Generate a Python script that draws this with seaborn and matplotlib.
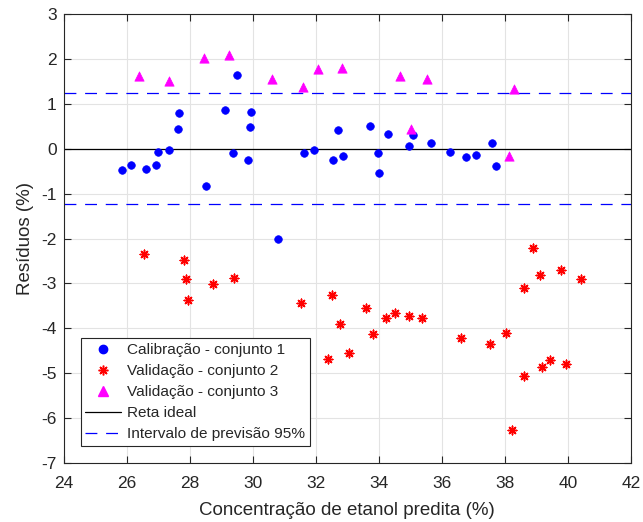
import numpy as np
import pandas as pd
import seaborn as sns
import matplotlib
matplotlib.use("Agg")
import matplotlib.pyplot as plt
from matplotlib.lines import Line2D

# Calibração - conjunto 1
cal_x = [25.84, 26.13, 26.62, 26.92, 27.00, 27.33, 27.62, 27.66, 28.53, 29.11, 29.36, 29.49,
         29.86, 29.90, 29.94, 30.81, 31.64, 31.94, 32.56, 32.85, 32.69, 33.72, 33.97, 34.02,
         34.30, 34.97, 35.09, 35.67, 36.25, 36.75, 37.08, 37.58, 37.71]
cal_y = [-0.48, -0.36, -0.45, -0.36, -0.07, -0.02, 0.45, 0.80, -0.83, 0.86, -0.10, 1.65,
         -0.25, 0.48, 0.83, -2.00, -0.10, -0.02, -0.25, -0.16, 0.42, 0.51, -0.10, -0.54,
         0.33, 0.07, 0.30, 0.13, -0.07, -0.19, -0.13, 0.13, -0.39]

# Validação - conjunto 2
v2_x = [26.55, 27.82, 27.87, 27.95, 28.73, 29.40, 31.52, 32.52, 32.77, 32.38, 33.06, 33.59,
        33.80, 34.22, 34.51, 34.97, 35.38, 36.62, 37.53, 38.03, 38.22, 38.61, 38.61, 38.90,
        39.10, 39.18, 39.43, 39.78, 39.93, 40.40]
v2_y = [-2.35, -2.47, -2.90, -3.37, -3.02, -2.87, -3.43, -3.25, -3.90, -4.68, -4.56, -3.55,
        -4.13, -3.78, -3.66, -3.72, -3.78, -4.22, -4.36, -4.10, -6.26, -5.06, -3.10, -2.20,
        -2.81, -4.86, -4.71, -2.69, -4.80, -2.90]

# Validação - conjunto 3
v3_x = [26.38, 27.34, 28.45, 29.25, 30.61, 31.61, 32.06, 32.84, 34.67, 35.53, 38.29, 35.01, 38.12]
v3_y = [1.62, 1.50, 2.03, 2.09, 1.56, 1.38, 1.77, 1.80, 1.62, 1.56, 1.33, 0.45, -0.15]

pred_int = 1.235
x_ticks = [24, 26, 28, 30, 32, 34, 36, 38, 40, 42]
y_ticks = [-7, -6, -5, -4, -3, -2, -1, 0, 1, 2, 3]

labels = ["Calibração - conjunto 1", "Validação - conjunto 2", "Validação - conjunto 3",
          "Reta ideal", "Intervalo de previsão 95%"]

sns.set_theme(style="whitegrid")
plt.rcParams['font.family'] = ['Liberation Sans', 'DejaVu Sans']

fig = plt.figure(figsize=(6.43, 5.22), dpi=100)
ax = fig.add_axes([0.0988, 0.113, 0.8826, 0.860])

dash = (9.5, 7)
ax.axhline(0, color='black', lw=0.9, zorder=2)
ax.axhline(pred_int, color='blue', lw=0.9, dashes=dash, zorder=2)
ax.axhline(-pred_int, color='blue', lw=0.9, dashes=dash, zorder=2)

d1 = pd.DataFrame({'x': cal_x, 'y': cal_y})
d2 = pd.DataFrame({'x': v2_x, 'y': v2_y})
d3 = pd.DataFrame({'x': v3_x, 'y': v3_y})
sns.scatterplot(data=d1, x='x', y='y', ax=ax, color='blue', marker='o', s=30,
                edgecolor='blue', linewidth=0.5, zorder=3)
sns.scatterplot(data=d2, x='x', y='y', ax=ax, color='red', marker=(8, 2, 0), s=38,
                edgecolor='red', linewidth=1.1, zorder=3)
sns.scatterplot(data=d3, x='x', y='y', ax=ax, color='magenta', marker='^', s=45,
                edgecolor='magenta', linewidth=0.5, zorder=3)

ax.set_xlim(24, 42)
ax.set_ylim(-7, 3)
ax.set_xticks(x_ticks)
ax.set_yticks(y_ticks)
ax.set_xticklabels([str(t) for t in x_ticks])
ax.set_yticklabels([str(t) for t in y_ticks])
ax.grid(True, color='#e3e3e3', lw=0.8)
ax.set_facecolor('white')
for s in ax.spines.values():
    s.set_color('#262626')
    s.set_linewidth(0.8)
ax.tick_params(axis='both', which='both', direction='in', length=5, width=0.8,
               top=True, right=True, bottom=True, left=True, colors='#262626',
               labelsize=12.5)
ax.tick_params(axis='x', pad=9)
ax.tick_params(axis='y', pad=5)
ax.set_xlabel("Concentração de etanol predita (%)", fontsize=13.5, color='#262626',
              labelpad=8)
ax.set_ylabel("Resíduos (%)", fontsize=13.5, color='#262626', labelpad=5)

handles = [
    Line2D([], [], ls='none', marker='o', color='blue', markersize=6),
    Line2D([], [], ls='none', marker=(8, 2, 0), color='red', markersize=7, mew=1.1),
    Line2D([], [], ls='none', marker='^', color='magenta', markersize=7),
    Line2D([], [], color='black', lw=0.9),
    Line2D([], [], color='blue', lw=0.9, dashes=dash),
]
leg = ax.legend(handles, labels, loc='lower left', bbox_to_anchor=(0.030, 0.038),
                fontsize=11.1, frameon=True, fancybox=False, edgecolor='#262626',
                framealpha=1, borderpad=0.32, labelspacing=0.45, handlelength=2.3,
                handletextpad=0.4, borderaxespad=0)
leg.get_frame().set_linewidth(0.8)

fig.savefig("out.png", dpi=100)
